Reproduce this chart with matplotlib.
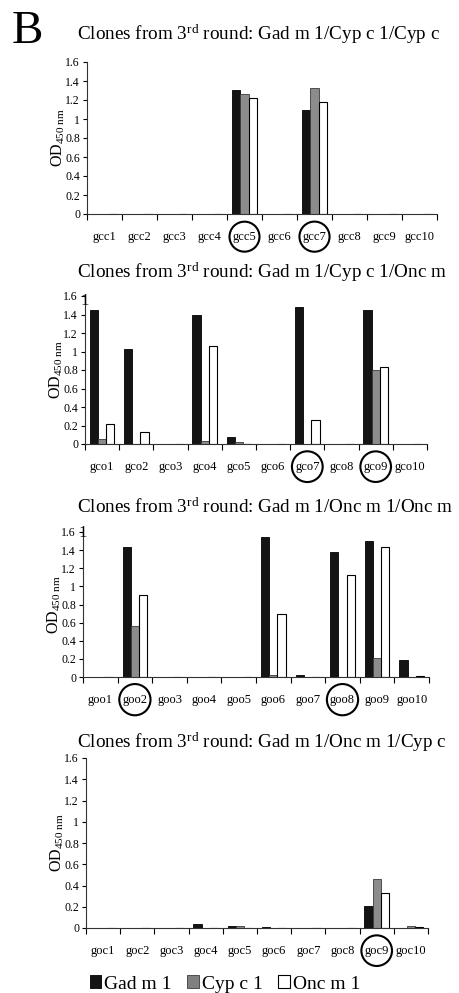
import numpy as np
import matplotlib
matplotlib.use("Agg")
import matplotlib.pyplot as plt
from matplotlib.patches import Patch

plt.rcParams['font.family'] = ['Liberation Serif', 'DejaVu Serif']
plt.rcParams['mathtext.fontset'] = 'custom'
plt.rcParams['mathtext.rm'] = 'Liberation Serif'
plt.rcParams['mathtext.it'] = 'Liberation Serif:italic'

# data
gcc_labels = ['gcc%d' % i for i in range(1, 11)]
gcc_gad = [0, 0, 0, 0, 1.31, 0, 1.09, 0, 0, 0]
gcc_cyp = [0, 0, 0, 0, 1.26, 0, 1.33, 0, 0, 0]
gcc_onc = [0, 0, 0, 0, 1.22, 0, 1.18, 0, 0, 0]

gco_labels = ['gco%d' % i for i in range(1, 11)]
gco_gad = [1.45, 1.03, 0, 1.40, 0.075, 0, 1.48, 0, 1.45, 0]
gco_cyp = [0.05, 0, 0, 0.03, 0.025, 0, 0, 0, 0.80, 0]
gco_onc = [0.22, 0.13, 0, 1.06, 0, 0, 0.255, 0, 0.83, 0]

goo_labels = ['goo%d' % i for i in range(1, 11)]
goo_gad = [0, 1.43, 0, 0, 0, 1.54, 0.025, 1.38, 1.50, 0.185]
goo_cyp = [0, 0.565, 0, 0, 0, 0.025, 0, 0, 0.21, 0.005]
goo_onc = [0, 0.91, 0, 0, 0, 0.695, 0, 1.125, 1.43, 0.01]

goc_labels = ['goc%d' % i for i in range(1, 11)]
goc_gad = [0, 0, 0, 0.035, 0.015, 0.01, 0, 0, 0.21, 0]
goc_cyp = [0, 0, 0, 0, 0.02, 0, 0, 0, 0.46, 0.02]
goc_onc = [0, 0, 0, 0, 0, 0, 0, 0, 0.33, 0.01]

titles = [
    'Clones from 3$^{\\rm rd}$ round: Gad m 1/Cyp c 1/Cyp c',
    'Clones from 3$^{\\rm rd}$ round: Gad m 1/Cyp c 1/Onc m',
    'Clones from 3$^{\\rm rd}$ round: Gad m 1/Onc m 1/Onc m',
    'Clones from 3$^{\\rm rd}$ round: Gad m 1/Onc m 1/Cyp c',
]
circled = [['gcc5', 'gcc7'], ['gco7', 'gco9'], ['goo2', 'goo8'], ['goc9']]

panels = [
    (gcc_labels, gcc_gad, gcc_cyp, gcc_onc),
    (gco_labels, gco_gad, gco_cyp, gco_onc),
    (goo_labels, goo_gad, goo_cyp, goo_onc),
    (goc_labels, goc_gad, goc_cyp, goc_onc),
]

W, H = 459, 993
# axes boxes in pixels: left, top(1.6), right, bottom(0)
boxes = [(87, 62, 437, 214), (85, 296, 427, 444), (83, 532, 429, 677), (86, 758, 428, 928)]
title_base = [40, 278, 513, 748]

c_gad = '#141414'
c_cyp = '#8c8c8c'
c_onc = 'white'

fig = plt.figure(figsize=(W / 100, H / 100), dpi=100)

fig.text(12 / W, 1 - 43 / H, 'B', fontsize=34, va='baseline', ha='left')

w = 0.238
for i, (labels, gad, cyp, onc) in enumerate(panels):
    l, t, r, b = boxes[i]
    ax = fig.add_axes([l / W, 1 - b / H, (r - l) / W, (b - t) / H])
    x = np.arange(len(labels))
    ax.bar(x - w, gad, w, color=c_gad, edgecolor='black', linewidth=0.6)
    ax.bar(x, cyp, w, color=c_cyp, edgecolor='#3a3a3a', linewidth=0.6)
    ax.bar(x + w, onc, w, color=c_onc, edgecolor='black', linewidth=0.8)
    ax.set_xlim(-0.5, len(labels) - 0.5)
    ax.set_ylim(0, 1.6)
    ax.set_yticks(np.arange(0, 1.61, 0.2))
    ax.set_yticklabels(['0', '0.2', '0.4', '0.6', '0.8', '1', '1.2', '1.4', '1.6'])
    ax.set_xticks(np.arange(-0.5, len(labels)), labels=[])
    ax.set_xticks(x, labels=labels, minor=True)
    ax.tick_params(axis='x', which='major', length=4, width=0.8, direction='out')
    ax.tick_params(axis='x', which='minor', length=0, pad=12, labelsize=9)
    ax.tick_params(axis='y', length=3, width=0.8, labelsize=8.5, pad=2)
    for s in ['top', 'right']:
        ax.spines[s].set_visible(False)
    for s in ['left', 'bottom']:
        ax.spines[s].set_linewidth(0.8)
        ax.spines[s].set_color('#333333')
    ax.set_ylabel('OD$_{\\rm 450\\ nm}$', fontsize=11.5, labelpad=-1)
    for lab in ax.get_xticklabels(minor=True):
        if lab.get_text() in circled[i]:
            lab.set_bbox(dict(boxstyle='circle,pad=0.25', fc='none', ec='black', lw=1.5))
    fig.text(77 / W, 1 - title_base[i] / H, titles[i], fontsize=13.8, va='baseline', ha='left')

# wrapped title remnants
fig.text(80 / W, 1 - 305 / H, '1', fontsize=12, ha='left', va='baseline')
fig.text(78 / W, 1 - 537 / H, '1', fontsize=12, ha='left', va='baseline')

handles = [Patch(fc=c_gad, ec='black', lw=0.6),
           Patch(fc='#808080', ec='#3a3a3a', lw=0.6),
           Patch(fc=c_onc, ec='black', lw=0.8)]
fig.legend(handles, ['Gad m 1', 'Cyp c 1', 'Onc m 1'], loc='center',
           bbox_to_anchor=(225 / W, 1 - 984 / H), ncol=3, frameon=False,
           fontsize=14, handlelength=0.6, handleheight=0.6, handletextpad=0.15,
           columnspacing=0.8, borderpad=0, borderaxespad=0)

fig.savefig('out.png', dpi=100)
